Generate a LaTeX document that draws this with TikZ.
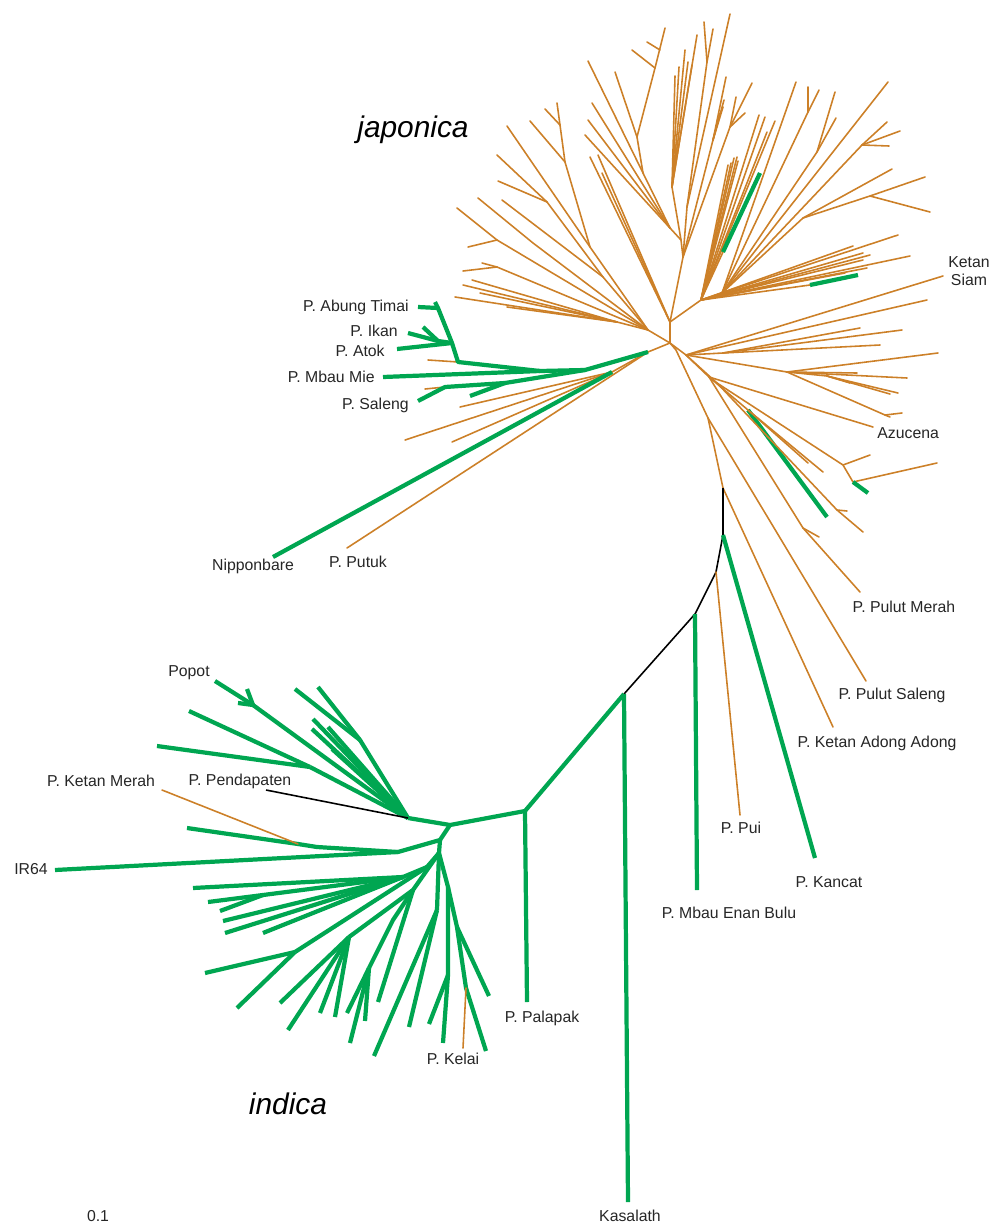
\documentclass[tikz,border=0pt]{standalone}
\usepackage{fontspec}
\setmainfont{Liberation Sans}
\usetikzlibrary{calc}
\definecolor{ochre}{RGB}{204,128,40}
\definecolor{leafgreen}{RGB}{0,166,81}
\tikzstyle{jap} = [draw=ochre, line width=0.9pt, line cap=round, line join=round]
\tikzstyle{ind} = [draw=leafgreen, line width=2.4pt, line join=round]
\tikzstyle{adm} = [draw=black, line width=0.9pt, line join=round]
\tikzstyle{lbl} = [font=\fontsize{9}{10}\selectfont, inner sep=0pt, text=black!85]
\tikzstyle{grp} = [font=\fontsize{17}{20}\selectfont\itshape, inner sep=0pt]
\newcommand{\fan}[3]{\foreach \p in {#3} {\draw[#1] (#2) -- \p;}}

\begin{document}
\begin{tikzpicture}[x=0.02cm, y=-0.02cm]
\useasboundingbox (0,0) rectangle (1002,1224);
% japonica core
\coordinate (J0) at (670,343);
\coordinate (J1) at (670,322);
\coordinate (LF) at (648,330);
\coordinate (H1) at (686,355);
\coordinate (Jn) at (648,352);
\coordinate (Jn2) at (612,372);
\coordinate (J6a) at (676,350);
\coordinate (J6) at (708,418);
\coordinate (Jb) at (723,488);
\draw[jap] (J1) -- (J0) -- (LF);
\draw[jap] (J0) -- (H1);
\draw[jap] (J0) -- (Jn) -- (Jn2);
\draw[jap] (J0) -- (J6a) -- (J6) -- (Jb);
% top
\coordinate (C0) at (683,257);
\coordinate (C1) at (681,240);
\coordinate (Ca) at (670,228);
\coordinate (Nb) at (643,173);
\coordinate (Na) at (637,137);
\coordinate (Nc) at (655,68);
\coordinate (Nd) at (660,50);
\coordinate (Cb) at (672,187);
\coordinate (Cc) at (687,207);
\coordinate (Cd) at (707,62);
\coordinate (Ce) at (713,140);
\coordinate (Cf) at (730,127);
\coordinate (H2) at (701,300);
\draw[jap] (J1) -- (C0) -- (C1) -- (Ca) -- (Nb) -- (588,61);
\draw[jap] (Nb) -- (Na) -- (615,72);
\draw[jap] (Na) -- (Nc) -- (665,28);
\fan{jap}{Nc}{(632,50)}
\fan{jap}{Nd}{(647,42)}
\fan{jap}{Ca}{(592,103),(588,120),(585,135)}
\draw[jap] (C1) -- (Cb);
\fan{jap}{Cb}{(675,76),(679,67),(685,50),(688,62),(692,65),(697,35)}
\draw[jap] (C0) -- (Cc) -- (Cd);
\fan{jap}{Cd}{(704,22),(713,29)}
\fan{jap}{Cc}{(730,14)}
\draw[jap] (C0) -- (Ce);
\fan{jap}{Ce}{(726,77),(724,100),(723,107),(720,113)}
\draw[jap] (C0) -- (Cf);
\fan{jap}{Cf}{(736,97),(752,83),(745,113)}
\fan{jap}{J1}{(590,157),(598,155),(602,173)}
\draw[jap] (J1) -- (H2);
% upper right
\coordinate (Ha) at (722,293);
\coordinate (Hb) at (803,218);
\coordinate (Hc) at (870,196);
\coordinate (Hd) at (862,145);
\coordinate (He) at (817,152);
\coordinate (Hf) at (808,112);
\coordinate (Hg) at (810,285);
\coordinate (Hk) at (723,252);
\draw[jap] (H2) -- (Ha) -- (Hb) -- (892,169);
\draw[jap] (Hb) -- (Hc);
\fan{jap}{Hc}{(925,177),(930,212)}
\draw[jap] (Ha) -- (Hd);
\fan{jap}{Hd}{(887,122),(900,131),(889,146)}
\draw[jap] (Ha) -- (He);
\fan{jap}{He}{(835,92),(836,118)}
\draw[jap] (Ha) -- (Hf);
\fan{jap}{Hf}{(808,87),(819,90)}
\fan{jap}{Ha}{(796,82),(888,82)}
\fan{jap}{H2}{(759,115),(765,117),(775,121),(767,132)}
\fan{jap}{H2}{(737,157),(734,158),(731,163),(738,161),(728,165)}
\draw[jap] (H2) -- (Hk);
\draw[ind] (Hk) -- (760,173);
\fan{jap}{H2}{(898,235),(853,246),(863,253),(870,255),(910,256),(863,260)}
\draw[jap] (H2) -- (Hg);
\draw[ind] (Hg) -- (858,275);
\fan{jap}{H2}{(845,273),(867,268)}
% lower right
\coordinate (siam) at (943,276);
\coordinate (Hr1) at (723,353);
\coordinate (Hr2) at (787,372);
\coordinate (Hr3) at (827,376);
\coordinate (Hr5) at (885,415);
\coordinate (J4) at (709,377);
\coordinate (J5) at (717,383);
\coordinate (Js1) at (748,410);
\coordinate (Js2) at (843,465);
\coordinate (Js3) at (853,482);
\coordinate (Js4) at (837,510);
\coordinate (Pm) at (803,528);
\coordinate (azu) at (873,427);
\coordinate (pmerah) at (860,592);
\coordinate (psaleng) at (866,681);
\coordinate (adong) at (833,727);
\draw[jap] (H1) -- (siam);
\fan{jap}{H1}{(927,300)}
\draw[jap] (H1) -- (Hr1);
\fan{jap}{Hr1}{(860,328),(902,330),(880,345)}
\draw[jap] (H1) -- (Hr2);
\fan{jap}{Hr2}{(938,353),(857,373),(907,378)}
\draw[jap] (Hr2) -- (Hr3);
\fan{jap}{Hr3}{(850,383),(890,394),(898,393)}
\draw[jap] (Hr2) -- (Hr5) -- (890,417);
\draw[jap] (Hr5) -- (902,413);
\draw[jap] (H1) -- (J4) -- (azu);
\draw[jap] (J4) -- (Js1);
\draw[ind] (Js1) -- (827,517);
\fan{jap}{Js1}{(808,463),(823,472)}
\draw[jap] (J4) -- (Pm) -- (pmerah);
\draw[jap] (Pm) -- (819,537);
\draw[jap] (H1) -- (J5) -- (Js2) -- (870,455);
\draw[jap] (Js2) -- (Js3) -- (937,463);
\draw[ind] (Js3) -- (868,493);
\draw[jap] (J5) -- (Js4) -- (863,532);
\draw[jap] (Js4) -- (847,511);
\draw[jap] (J6) -- (psaleng);
\draw[jap] (Jb) -- (adong);
% left fan
\coordinate (Lf1) at (590,247);
\coordinate (Lf2) at (565,162);
\coordinate (Lf3) at (560,125);
\coordinate (Lf4) at (603,277);
\coordinate (Lf5) at (547,202);
\coordinate (Lf6) at (533,243);
\coordinate (Lf7) at (497,240);
\coordinate (Lf8) at (497,267);
\coordinate (Lf9) at (617,322);
\draw[jap] (LF) -- (Lf1) -- (507,126);
\draw[jap] (Lf1) -- (Lf2) -- (530,121);
\draw[jap] (Lf2) -- (Lf3);
\fan{jap}{Lf3}{(545,109),(557,103)}
\draw[jap] (LF) -- (Lf4) -- (502,200);
\draw[jap] (Lf4) -- (Lf5);
\fan{jap}{Lf5}{(497,155),(498,181)}
\draw[jap] (LF) -- (Lf6) -- (478,198);
\draw[jap] (LF) -- (Lf7);
\fan{jap}{Lf7}{(457,208),(468,247)}
\draw[jap] (LF) -- (Lf8);
\fan{jap}{Lf8}{(482,263),(463,271)}
\draw[jap] (LF) -- (Lf9);
\fan{jap}{Lf9}{(455,297),(463,285),(472,280),(480,293),(507,307)}
% green clade in japonica
\coordinate (Gh1) at (585,370);
\coordinate (Gm) at (540,371);
\coordinate (Gh2) at (458,362);
\coordinate (Gh3) at (452,343);
\coordinate (Gh4) at (438,308);
\coordinate (Gh5) at (438,341);
\coordinate (Gs) at (505,383);
\coordinate (Gs2) at (445,387);
\coordinate (abung) at (418,307);
\coordinate (ikan) at (408,333);
\coordinate (atok) at (397,349);
\coordinate (mbaumie) at (383,377);
\coordinate (saleng) at (418,401);
\coordinate (nippon) at (273,557);
\coordinate (putuk) at (347,548);
\draw[jap] (Gh2) -- (428,360);
\draw[jap] (Gs2) -- (425,389);
\draw[jap] (Jn) -- (putuk);
\fan{jap}{Jn2}{(405,440),(452,442),(460,407)}
\draw[ind] (Jn) -- (Gh1) -- (Gm) -- (mbaumie);
\draw[ind] (Gm) -- (Gh2) -- (Gh3) -- (Gh4) -- (abung);
\draw[ind] (Gh4) -- (435,302);
\draw[ind] (Gh3) -- (atok);
\draw[ind] (Gh3) -- (Gh5) -- (ikan);
\draw[ind] (Gh5) -- (423,327);
\draw[ind] (Gh1) -- (Gs) -- (Gs2) -- (saleng);
\draw[ind] (Gs) -- (470,396);
\draw[ind] (Jn2) -- (nippon);
% backbone
\coordinate (K1) at (723,535);
\coordinate (K2) at (716,572);
\coordinate (K3) at (695,614);
\coordinate (K4) at (624,694);
\coordinate (kancat) at (815,858);
\coordinate (pui) at (740,815);
\coordinate (mbauenan) at (697,890);
\coordinate (kasalath) at (628,1202);
\coordinate (I3) at (525,811);
\coordinate (palapak) at (527,1002);
\coordinate (I2) at (450,825);
\coordinate (I1) at (408,818);
\draw[adm] (Jb) -- (K1) -- (K2) -- (K3) -- (K4);
\draw[ind] (K1) -- (kancat);
\draw[jap] (K2) -- (pui);
\draw[ind] (K3) -- (mbauenan);
\draw[ind] (K4) -- (kasalath);
\draw[ind] (K4) -- (I3) -- (palapak);
\draw[ind] (I3) -- (I2) -- (I1);
% indica
\coordinate (Ip) at (253,705);
\coordinate (In1) at (310,767);
\coordinate (Iq) at (360,740);
\coordinate (I4) at (440,840);
\coordinate (I5) at (398,852);
\coordinate (In2) at (317,847);
\coordinate (Km) at (298,844);
\coordinate (I6) at (439,853);
\coordinate (I7) at (427,867);
\coordinate (I8) at (403,877);
\coordinate (I9) at (263,895);
\coordinate (I10) at (295,952);
\coordinate (Ia) at (413,890);
\coordinate (Ib) at (349,937);
\coordinate (Ie) at (393,920);
\coordinate (If) at (369,968);
\coordinate (Ih) at (437,910);
\coordinate (Ii) at (448,887);
\coordinate (Ij) at (448,975);
\coordinate (Ik) at (457,927);
\coordinate (Il) at (466,988);
\coordinate (popot) at (215,681);
\coordinate (pendap) at (266,790);
\coordinate (ketanmerah) at (162,790);
\coordinate (ir64) at (55,870);
\coordinate (kelai) at (463,1048);
\draw[ind] (I1) -- (Ip) -- (popot);
\fan{ind}{Ip}{(247,689),(238,703)}
\draw[ind] (I1) -- (In1);
\fan{ind}{In1}{(157,746),(189,711)}
\draw[ind] (I1) -- (Iq);
\fan{ind}{Iq}{(295,689),(318,687)}
\fan{ind}{I1}{(313,719),(312,729),(328,727),(332,749)}
\draw[adm] (I1) -- (pendap);
\draw[ind] (I2) -- (I4) -- (I5) -- (ir64);
\draw[ind] (I5) -- (In2) -- (Km) -- (187,828);
\draw[jap] (Km) -- (ketanmerah);
\draw[ind] (I4) -- (I6);
\draw[ind] (I6) -- (I7) -- (I8) -- (193,888);
\draw[ind] (I8) -- (I9);
\fan{ind}{I9}{(208,902),(220,911)}
\fan{ind}{I8}{(223,921),(225,933),(263,933)}
\draw[ind] (I7) -- (I10);
\fan{ind}{I10}{(205,973),(237,1008)}
\draw[ind] (I6) -- (Ia) -- (Ib);
\fan{ind}{Ib}{(280,1003),(288,1030),(320,1013),(335,1017)}
\draw[ind] (Ia) -- (Ie) -- (If);
\fan{ind}{If}{(347,1013),(350,1043),(365,1021)}
\fan{ind}{Ia}{(378,1002)}
\draw[ind] (I6) -- (Ih);
\fan{ind}{Ih}{(374,1056),(409,1027)}
\draw[ind] (I6) -- (Ii) -- (Ij);
\fan{ind}{Ij}{(429,1024),(443,1043)}
\draw[ind] (Ii) -- (Ik) -- (Il) -- (486,1051);
\draw[jap] (Il) -- (kelai);
\draw[ind] (Ik) -- (489,996);
% labels
\node[grp] (japlbl) at (413,130) {japonica};
\node[grp] (indlbl) at (288,1104) {indica};
\node[lbl, align=center] (siamlbl) at (969,271) {Ketan\\Siam};
\node[lbl, anchor=east] (abunglbl) at (409,307) {P. Abung Timai};
\node[lbl, anchor=east] (ikanlbl) at (398,331) {P. Ikan};
\node[lbl, anchor=east] (atoklbl) at (385,351) {P. Atok};
\node[lbl, anchor=east] (mbaumielbl) at (375,377) {P. Mbau Mie};
\node[lbl, anchor=east] (salenglbl) at (409,405) {P. Saleng};
\node[lbl, anchor=west] (azulbl) at (877,433) {Azucena};
\node[lbl] (nipponlbl) at (253,566) {Nipponbare};
\node[lbl] (putuklbl) at (358,562) {P. Putuk};
\node[lbl] (pmerahlbl) at (904,607) {P. Pulut Merah};
\node[lbl] (psalenglbl) at (892,695) {P. Pulut Saleng};
\node[lbl] (adonglbl) at (877,743) {P. Ketan Adong Adong};
\node[lbl] (popotlbl) at (189,673) {Popot};
\node[lbl] (pendaplbl) at (240,781) {P. Pendapaten};
\node[lbl] (merahlbl) at (101,781) {P. Ketan Merah};
\node[lbl] (ir64lbl) at (31,869) {IR64};
\node[lbl] (puilbl) at (741,828) {P. Pui};
\node[lbl] (kancatlbl) at (829,882) {P. Kancat};
\node[lbl] (mbauenanlbl) at (729,913) {P. Mbau Enan Bulu};
\node[lbl] (palapaklbl) at (542,1018) {P. Palapak};
\node[lbl] (kelailbl) at (453,1059) {P. Kelai};
\node[lbl] (kasalathlbl) at (630,1216) {Kasalath};
\node[lbl] (scalelbl) at (98,1216) {0.1};
\end{tikzpicture}
\end{document}
